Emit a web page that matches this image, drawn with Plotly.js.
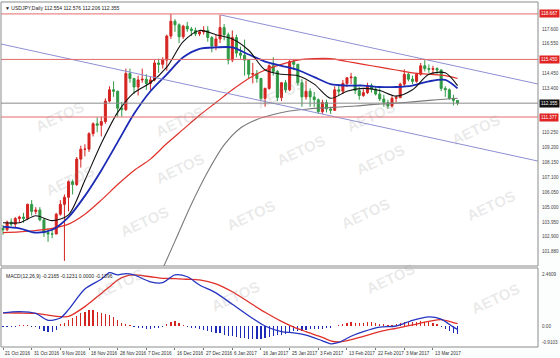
<!DOCTYPE html>
<html><head><meta charset="utf-8">
<script src="https://cdn.plot.ly/plotly-3.0.1.min.js"></script>
<style>html,body{margin:0;padding:0;background:#fcfdfd}#chart{width:560px;height:358px}</style>
</head><body><div id="chart"></div>
<script>
// ---- USDJPY daily OHLC ----
const openP = [103.50,103.40,103.95,103.80,104.20,104.30,104.20,105.20,104.70,104.80,
104.10,103.20,103.10,103.10,104.50,105.20,105.70,106.80,106.60,108.40,
109.10,109.10,110.20,110.90,110.80,111.05,112.50,113.30,113.20,112.00,
111.90,114.45,114.10,113.50,114.00,114.05,113.75,114.00,115.20,115.10,
115.40,117.10,118.15,117.90,117.05,117.80,117.60,117.50,117.25,117.40,
117.50,117.00,116.40,116.90,117.70,117.20,115.40,117.00,115.90,115.75,
115.40,114.40,114.45,114.10,112.70,113.40,115.00,114.60,112.75,113.80,
113.30,115.30,115.10,113.80,112.80,113.20,112.80,112.60,111.75,112.40,
111.95,111.85,113.30,113.20,113.75,114.15,114.20,113.25,112.90,113.10,
113.60,113.35,113.00,112.65,112.40,112.15,112.70,112.75,113.70,114.40,
114.05,113.90,114.40,115.00,114.80,114.75,114.80,114.70,113.40,113.30,
112.70,112.55];
const highP = [103.75,104.05,104.20,104.30,104.40,104.60,105.25,105.50,105.00,105.00,
104.20,103.50,103.45,104.60,105.50,105.90,106.90,106.95,108.55,109.35,
109.45,110.30,111.00,111.35,111.40,112.70,113.55,113.90,113.25,112.45,
114.80,114.80,114.15,114.30,114.80,114.40,114.25,115.40,115.50,115.60,
117.20,118.66,118.30,118.00,117.90,118.10,117.75,117.70,117.45,117.80,
117.80,117.10,117.20,118.60,117.95,117.35,117.50,117.20,116.35,116.85,
115.40,115.20,114.70,114.15,113.45,115.10,115.60,114.70,113.85,114.00,
115.40,115.45,115.15,114.05,113.95,113.40,113.15,112.70,112.60,112.60,
112.10,113.55,113.70,114.00,114.20,114.50,114.25,113.50,113.35,113.80,
113.75,113.50,113.40,112.95,112.60,112.85,112.90,113.80,114.75,114.50,
114.30,114.50,115.20,115.40,115.10,115.00,114.90,114.75,113.55,113.40,
112.95,112.58];
const lowP = [103.05,103.30,103.65,103.60,103.90,103.90,104.10,104.40,104.50,104.00,
102.90,102.55,102.80,103.10,104.40,101.20,104.70,105.90,106.50,107.80,
108.60,108.90,110.00,110.30,110.00,110.90,112.40,112.80,111.40,111.40,
111.80,113.80,113.00,112.90,113.80,113.30,113.30,113.90,114.50,114.80,
114.65,116.90,117.40,116.60,116.90,117.40,117.10,117.10,117.10,117.20,
116.70,115.95,116.10,116.60,116.80,115.10,115.25,115.60,115.50,114.30,
114.10,113.75,113.80,112.55,112.10,113.30,114.30,112.50,112.50,113.10,
113.20,114.70,113.60,112.10,112.60,112.10,112.10,111.60,111.60,111.70,
111.60,111.80,112.90,113.00,113.50,113.70,113.00,112.60,112.80,113.00,
113.10,112.90,112.50,112.10,111.95,112.05,112.40,112.70,113.55,113.90,
113.70,113.80,114.30,114.60,114.50,114.40,114.40,113.20,112.80,112.60,
112.20,112.21];
const closeP = [103.40,103.95,103.80,104.20,104.30,104.20,105.20,104.70,104.80,104.10,
103.20,103.10,103.10,104.50,105.20,105.70,106.80,106.60,108.40,109.10,
109.10,110.20,110.90,110.80,111.05,112.50,113.30,113.20,112.00,111.90,
114.45,114.10,113.50,114.00,114.05,113.75,114.00,115.20,115.10,115.40,
117.10,118.15,117.90,117.05,117.80,117.60,117.50,117.25,117.40,117.50,
117.00,116.40,116.90,117.70,117.20,115.40,117.00,115.90,115.75,115.40,
114.40,114.45,114.10,112.70,113.40,115.00,114.60,112.75,113.80,113.30,
115.30,115.10,113.80,112.80,113.20,112.80,112.60,111.75,112.40,111.95,
111.85,113.30,113.20,113.75,114.15,114.20,113.25,112.90,113.10,113.60,
113.35,113.00,112.65,112.40,112.15,112.70,112.75,113.70,114.40,114.05,
113.90,114.40,115.00,114.80,114.75,114.80,114.70,113.40,113.30,112.70,
112.55,112.36];

// ---- moving averages (read at every 4th bar) ----
const maIdx   = [0,4,8,12,16,20,24,28,32,36,40,44,48,52,56,60,64,68,72,76,80,84,88,92,96,100,104,108,111];
const maBlack = [103.9,103.9,104.39,104.05,104.46,106.9,109.5,111.7,113.1,113.8,114.9,116.7,117.5,117.2,116.9,116.1,114.7,114.4,114.3,113.7,112.7,113.2,113.4,113.25,112.85,113.3,114.4,114.5,113.6];
const maBlue  = [103.6,103.5,103.2,103.4,104.3,105.8,107.6,109.6,111.6,113.2,114.4,115.6,116.2,116.3,116.3,115.8,115.3,115.0,114.7,114.2,113.7,113.6,113.6,113.5,113.5,113.6,113.9,114.0,113.4];
const maRed   = [103.2,103.25,103.35,103.5,103.8,104.5,105.5,106.6,107.6,108.4,109.5,110.5,111.5,112.4,113.3,114.1,114.7,115.1,115.4,115.5,115.5,115.3,115.1,114.9,114.7,114.5,114.4,114.3,114.1];
const grayIdx = [38,42,46,50,54,58,62,66,70,74,78,82,86,90,94,98,102,106,111];
const maGray  = [100.0,102.6,105.2,107.5,109.4,110.6,111.2,111.55,111.8,111.93,112.02,112.08,112.15,112.25,112.32,112.4,112.5,112.6,112.7];

// ---- channel lines and levels ----
const upperChIdx = [53.2,130.65],  upperChPrice = [118.59,113.71];
const lowerChIdx = [-0.49,130.65], lowerChPrice = [116.54,108.26];
const redLevels = [118.667,115.450,111.377];
const bidLevel = 112.355;

// ---- MACD(12,26,9) ----
const macdIdx  = [0,4,8,11,14,16,20,24,26,28,30,32,36,39,42,45,48,52,56,60,64,68,71,74,78,80,82,85,88,92,96,100,104,107,110,111];
const macdMain = [0.58,0.63,0.55,0.25,0.35,0.72,1.62,2.05,2.34,2.24,2.30,2.24,1.94,1.90,2.24,2.16,1.80,1.45,0.95,0.45,0.00,-0.25,-0.30,-0.40,-0.65,-0.78,-0.72,-0.45,-0.25,-0.05,0.00,0.25,0.40,0.30,-0.05,-0.15];
const macdSig  = [0.58,0.57,0.55,0.48,0.41,0.42,0.85,1.43,1.72,2.02,2.19,2.24,2.16,2.09,2.08,2.05,2.02,1.85,1.50,1.05,0.60,0.20,-0.05,-0.25,-0.50,-0.65,-0.70,-0.60,-0.45,-0.25,-0.10,0.05,0.20,0.28,0.15,0.10];
const macdHist = [-0.04,-0.05,-0.04,-0.03,0.03,0.05,0.04,-0.03,-0.06,-0.12,
-0.2,-0.26,-0.27,-0.18,0.08,0.15,0.25,0.35,0.45,0.55,
0.62,0.7,0.68,0.62,0.55,0.52,0.48,0.38,0.25,0.15,
0.1,0.06,-0.04,-0.08,-0.1,-0.12,-0.12,-0.1,-0.1,-0.06,
0.08,0.16,0.2,0.15,0.05,-0.04,-0.08,-0.08,-0.12,-0.18,
-0.22,-0.28,-0.3,-0.32,-0.4,-0.45,-0.46,-0.5,-0.52,-0.52,
-0.55,-0.56,-0.55,-0.56,-0.54,-0.48,-0.42,-0.4,-0.38,-0.33,
-0.26,-0.22,-0.22,-0.2,-0.17,-0.15,-0.14,-0.13,-0.12,-0.1,
-0.08,0.02,0.06,0.1,0.14,0.16,0.15,0.14,0.15,0.17,
0.16,0.14,0.1,0.07,0.05,0.05,0.07,0.12,0.16,0.17,
0.18,0.19,0.2,0.18,0.17,0.14,0.08,-0.06,-0.14,-0.22,
-0.3,-0.34];

// ---- labels ----
const xTickLabels = ["21 Oct 2016","31 Oct 2016","9 Nov 2016","18 Nov 2016","28 Nov 2016","7 Dec 2016","16 Dec 2016","27 Dec 2016","6 Jan 2017","16 Jan 2017","25 Jan 2017","3 Feb 2017","13 Feb 2017","22 Feb 2017","3 Mar 2017","13 Mar 2017"];
const priceLabels = ["117.600","116.550","114.450","113.400","110.250","109.200","108.150","107.100","106.050","105.000","103.950","102.900","101.880","100.830"];
const macdLabels = ["2.4609","0.00","-0.9103"];
const headerText = "▼ USDJPY,Daily 112.554 112.576 112.206 112.355";
const macdText = "MACD(12,26,9) -0.2165 -0.1231 0.0000 -0.1396";

const idx = closeP.map((_, i) => i);
const FONT = "Liberation Sans, Arial, sans-serif";

const traces = [];
traces.push({type:'candlestick', x:idx, open:openP, high:highP, low:lowP, close:closeP,
  xaxis:'x', yaxis:'y', hoverinfo:'skip', whiskerwidth:0,
  increasing:{line:{color:'#d42420', width:1}, fillcolor:'#d42420'},
  decreasing:{line:{color:'#2f9a45', width:1}, fillcolor:'#2f9a45'}});
function line(x, y, color, w, ax, shape){
  return {type:'scatter', mode:'lines', x:x, y:y, xaxis:'x', yaxis:ax||'y', hoverinfo:'skip',
    line:{color:color, width:w, shape:shape||'spline', smoothing:0.8}};
}
traces.push(line(grayIdx, maGray, '#7a7a7a', 1.1));
traces.push(line(maIdx, maRed, '#e0302a', 1.2));
traces.push(line(maIdx, maBlue, '#1b2bb5', 1.8));
traces.push(line(maIdx, maBlack, '#111111', 1.1));
traces.push(line(upperChIdx, upperChPrice, '#8e90d2', 1, 'y', 'linear'));
traces.push(line(lowerChIdx, lowerChPrice, '#8e90d2', 1, 'y', 'linear'));
// MACD
traces.push({type:'bar', x:idx, y:macdHist, xaxis:'x', yaxis:'y2', width:0.3, hoverinfo:'skip',
  marker:{color:macdHist.map(v => v >= 0 ? '#d42420' : '#1b2bb5'), line:{width:0}}});
traces.push(line(macdIdx, macdSig, '#e0302a', 1.3, 'y2'));
traces.push(line(macdIdx, macdMain, '#2434c0', 1.3, 'y2'));

const shapes = [];
redLevels.forEach(v => shapes.push({type:'line', xref:'paper', x0:0, x1:1, yref:'y', y0:v, y1:v, line:{color:'#e26a6a', width:1}}));
shapes.push({type:'line', xref:'paper', x0:0, x1:1, yref:'y', y0:bidLevel, y1:bidLevel, line:{color:'#8a8a8a', width:1}});
shapes.push({type:'rect', xref:'paper', yref:'paper', x0:0, x1:1, y0:0.2348, y1:1, line:{color:'#8c8c8c', width:1}});
shapes.push({type:'rect', xref:'paper', yref:'paper', x0:0, x1:1, y0:0, y1:0.229, line:{color:'#8c8c8c', width:1}});

const ann = [];
// watermarks
const wm = [[30,95],[150,100],[280,72],[400,95],[505,108],[40,180],[150,168],[300,150],[410,160],[520,205],
            [115,243],[250,215],[395,235],[90,305],[235,318],[420,300],[525,320]];
wm.forEach(p => ann.push({xref:'paper', yref:'paper', x:(p[0]-1)/537, y:1-(p[1]-2)/345, text:'<b>AETOS</b>',
  showarrow:false, textangle:-25, font:{family:FONT, size:15, color:'rgba(140,140,140,0.19)'}}));
// headers
ann.push({xref:'paper', yref:'paper', x:0.004, y:0.998, xanchor:'left', yanchor:'top', text:headerText, showarrow:false, font:{family:FONT, size:5, color:'#222'}});
ann.push({xref:'paper', yref:'paper', x:0.006, y:0.22, xanchor:'left', yanchor:'top', text:macdText, showarrow:false, font:{family:FONT, size:5, color:'#222'}});
// x tick labels
xTickLabels.forEach((t, k) => ann.push({xref:'x', yref:'paper', x:k*7, y:0, xanchor:'left', yanchor:'top', yshift:-2,
  text:t, showarrow:false, font:{family:FONT, size:4.6, color:'#333'}}));
// right price labels
priceLabels.forEach(t => ann.push({xref:'paper', yref:'y', x:1, y:parseFloat(t), xanchor:'left', xshift:2,
  text:t, showarrow:false, font:{family:FONT, size:4.6, color:'#444'}}));
redLevels.forEach(v => ann.push({xref:'paper', yref:'y', x:1, y:v, xanchor:'left', xshift:1, text:v.toFixed(3),
  showarrow:false, bgcolor:'#e02424', borderpad:1, font:{family:FONT, size:4.6, color:'#ffffff'}}));
ann.push({xref:'paper', yref:'y', x:1, y:bidLevel, xanchor:'left', xshift:1, text:bidLevel.toFixed(3),
  showarrow:false, bgcolor:'#111111', borderpad:1, font:{family:FONT, size:4.6, color:'#ffffff'}});
// MACD labels
[2.4609, 0, -0.9103].forEach((v, k) => ann.push({xref:'paper', yref:'y2', x:1, y:v, xanchor:'left', xshift:2,
  yanchor: k===0 ? 'top' : (k===2 ? 'bottom' : 'middle'),
  text:macdLabels[k], showarrow:false, font:{family:FONT, size:4.6, color:'#444'}}));

const layout = {
  width:560, height:358, margin:{l:1, r:22, t:2, b:11},
  paper_bgcolor:'#fcfdfd', plot_bgcolor:'#ffffff', showlegend:false, bargap:0,
  xaxis:{anchor:'y2', range:[-0.49,130.65], showgrid:false, zeroline:false, showticklabels:false,
    tickvals:xTickLabels.map((_, k) => k*7), ticks:'outside', ticklen:2, tickcolor:'#777',
    rangeslider:{visible:false}, fixedrange:true},
  yaxis:{domain:[0.2348,1], range:[100.84,119.51], showgrid:false, zeroline:false, showticklabels:false, fixedrange:true},
  yaxis2:{domain:[0,0.229], range:[-0.921,2.544], showgrid:false, zeroline:false, showticklabels:false, fixedrange:true},
  shapes:shapes, annotations:ann
};
Plotly.newPlot('chart', traces, layout, {staticPlot:true, displayModeBar:false});
</script></body></html>
